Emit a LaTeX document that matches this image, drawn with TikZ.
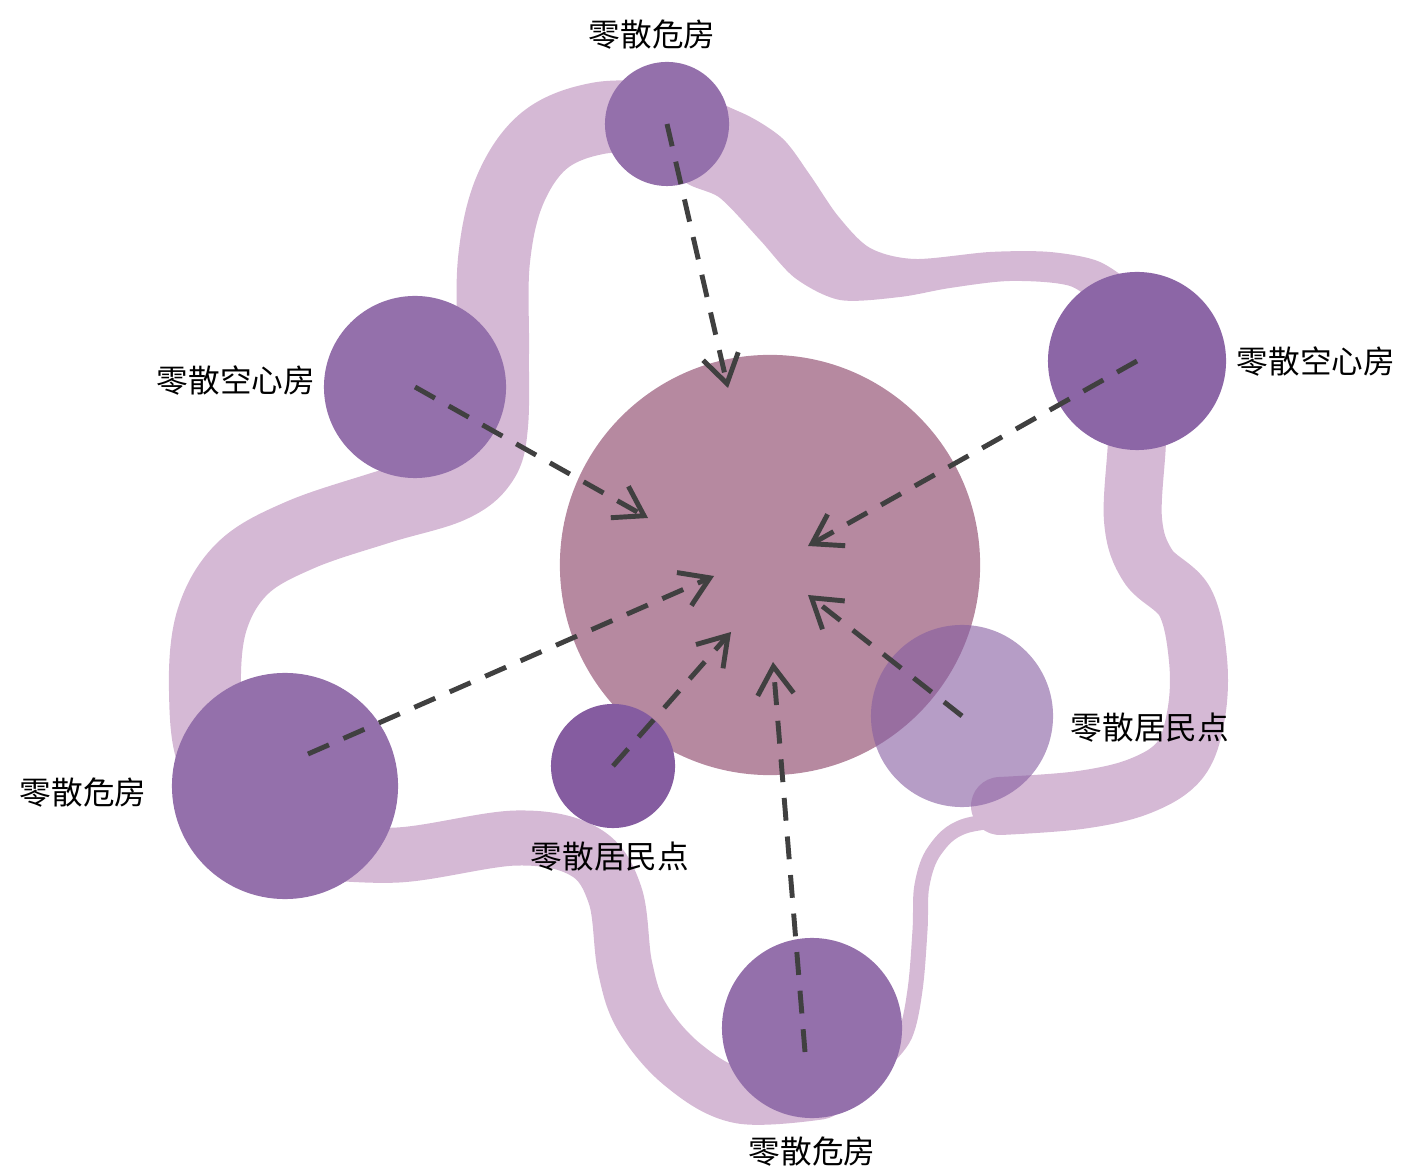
\documentclass[tikz,border=0pt]{standalone}
\usepackage{fontspec}
\setmainfont{Noto Sans CJK SC}
\usetikzlibrary{arrows.meta}
\definecolor{bandcol}{RGB}{213,185,213}
\definecolor{hubcol}{RGB}{182,137,160}
\definecolor{sitecol}{RGB}{148,112,171}
\definecolor{sitedark}{RGB}{140,102,166}
\definecolor{sitedeep}{RGB}{133,92,160}
\definecolor{flowcol}{RGB}{64,64,64}
\begin{document}
\begin{tikzpicture}[x=0.01cm, y=-0.01cm,
    band/.style={draw=bandcol, line cap=round, line join=round},
    site/.style={circle, inner sep=0pt, fill=sitecol},
    lbl/.style={font=\fontsize{9}{11}\selectfont, text=black},
    flow/.style={draw=flowcol, line width=1.4pt, dash pattern=on 6.5pt off 4.5pt,
      -{Straight Barb[length=2.8mm, width=3.6mm]}}]
    \useasboundingbox (0,0) rectangle (1401,1171);
    % ring of scattered plots
    \draw[band, line width=0.72cm] plot[smooth, tension=0.6] coordinates {(667,118) (600,118) (545,140) (510,190) (494,260) (493,350) (492,425) (482,462) (450,487) (380,508) (300,535) (243,568) (212,620) (205,690) (215,760) (260,800)};
    \draw[band, line width=0.55cm] plot[smooth, tension=0.6] coordinates {(300,850) (398,855) (517,838) (585,852) (615,895) (625,967) (642,1017) (683,1065) (740,1096) (820,1092)};
    \draw[band, line width=0.15cm] plot[smooth, tension=0.6] coordinates {(885,1060) (905,1035) (915,990) (920,930) (922,885) (935,850) (965,826) (1030,818)};
    \draw[band, line width=0.58cm] plot[smooth, tension=0.6] coordinates {(1000,806) (1080,800) (1140,786) (1180,760) (1196,715) (1198,660) (1185,602) (1148,566) (1133,520) (1137,440) (1137,380)};
    \fill[bandcol] plot[smooth cycle, tension=0.5] coordinates {(690,100) (740,112) (782,138) (810,175) (838,216) (870,248) (915,259) (990,252) (1050,252) (1100,262) (1135,290) (1110,312) (1070,286) (1010,281) (950,288) (900,297) (840,300) (795,278) (760,240) (720,198) (680,175)};
    % plots
    \node[circle, inner sep=0pt, fill=hubcol, minimum size=4.2cm] (hub) at (770,565) {};
    \node[site, minimum size=1.24cm] (top) at (667,124) {};
    \node[site, minimum size=1.82cm] (lt) at (415,387) {};
    \node[site, minimum size=1.78cm, fill=sitedark] (rt) at (1137,361) {};
    \node[site, minimum size=2.26cm] (lb) at (285,786) {};
    \node[site, minimum size=1.24cm, fill=sitedeep] (sm) at (613,766) {};
    \node[site, minimum size=1.82cm, fill=sitedeep, fill opacity=0.6] (rb) at (962,716) {};
    \node[site, minimum size=1.8cm] (bot) at (812,1028) {};
    % flows into the hub
    \coordinate (s-lb) at (308,754);
    \coordinate (s-bot) at (805,1052);
    \coordinate (e-top) at (728,388);
    \coordinate (e-lt) at (648,518);
    \coordinate (e-rt) at (808,546);
    \coordinate (e-lb) at (714,576);
    \coordinate (e-sm) at (731,632);
    \coordinate (e-rb) at (808,595);
    \coordinate (e-bot) at (773,662);
    \draw[flow] (top.center) -- (e-top);
    \draw[flow] (lt.center) -- (e-lt);
    \draw[flow] (rt.center) -- (e-rt);
    \draw[flow] (s-lb) -- (e-lb);
    \draw[flow] (sm.center) -- (e-sm);
    \draw[flow] (rb.center) -- (e-rb);
    \draw[flow] (s-bot) -- (e-bot);
    % labels
    \node[lbl] (l-top) at (652,35) {零散危房};
    \node[lbl] (l-lt) at (236,381) {零散空心房};
    \node[lbl] (l-rt) at (1316,362) {零散空心房};
    \node[lbl] (l-lb) at (83,793) {零散危房};
    \node[lbl] (l-sm) at (610,857) {零散居民点};
    \node[lbl] (l-rb) at (1150,728) {零散居民点};
    \node[lbl] (l-bot) at (812,1152) {零散危房};
\end{tikzpicture}
\end{document}
